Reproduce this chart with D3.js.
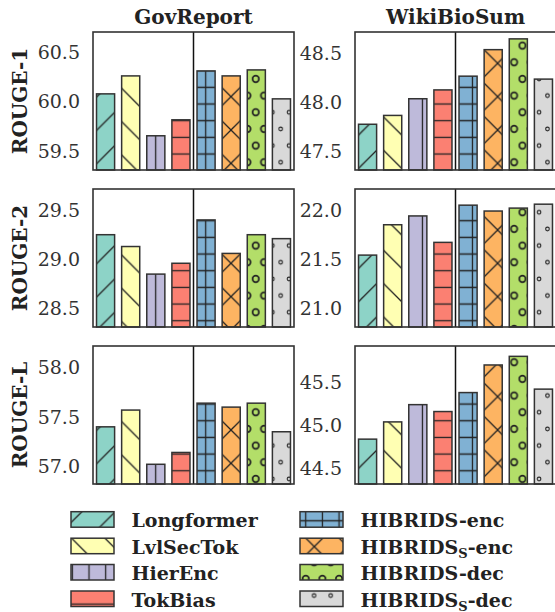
<!DOCTYPE html>
<html>
<head>
<meta charset="utf-8">
<script src="https://cdn.jsdelivr.net/npm/d3@7"></script>
<style>
  body { margin: 0; background: #fff; }
  svg { display: block; font-family: "DejaVu Serif", serif; }
</style>
</head>
<body>
<svg id="chart" width="555" height="612"></svg>
<script>
// ---- data ----
const models = ["Longformer", "LvlSecTok", "HierEnc", "TokBias", "HIBRIDS-enc", "HIBRIDS_S-enc", "HIBRIDS-dec", "HIBRIDS_S-dec"];
const datasets = ["GovReport", "WikiBioSum"];
const metrics = ["ROUGE-1", "ROUGE-2", "ROUGE-L"];

const govR1 = [60.08, 60.26, 59.66, 59.82, 60.31, 60.26, 60.32, 60.03];
const govR2 = [29.25, 29.13, 28.85, 28.96, 29.40, 29.06, 29.25, 29.21];
const govRL = [57.40, 57.57, 57.02, 57.14, 57.64, 57.60, 57.64, 57.35];
const wikiR1 = [47.78, 47.87, 48.04, 48.13, 48.27, 48.54, 48.65, 48.24];
const wikiR2 = [21.54, 21.85, 21.94, 21.67, 22.05, 21.99, 22.02, 22.06];
const wikiRL = [44.84, 45.04, 45.24, 45.16, 45.38, 45.70, 45.80, 45.42];

const govTicks = [[59.5, 60.0, 60.5], [28.5, 29.0, 29.5], [57.0, 57.5, 58.0]];
const wikiTicks = [[47.5, 48.0, 48.5], [21.0, 21.5, 22.0], [44.5, 45.0, 45.5]];
const govLims = [[59.317, 60.70], [28.313, 29.714], [56.82, 58.22]];
const wikiLims = [[47.314, 48.72], [20.806, 22.215], [44.32, 45.92]];

const values = [[govR1, wikiR1], [govR2, wikiR2], [govRL, wikiRL]];
const ticks = [[govTicks[0], wikiTicks[0]], [govTicks[1], wikiTicks[1]], [govTicks[2], wikiTicks[2]]];
const lims = [[govLims[0], wikiLims[0]], [govLims[1], wikiLims[1]], [govLims[2], wikiLims[2]]];

const colors = ["#8dd3c7", "#ffffb3", "#bebada", "#fb8072", "#80b1d3", "#fdb462", "#b3de69", "#d9d9d9"];
const hatches = ["fwd", "back", "vert", "hor", "plus", "cross", "ring", "dot"];

// ---- layout ----
const colLeft = [93, 355], panelW = 201;
const rowTop = [32, 189, 346], panelH = 138;
const edge = "#333", ink = "#222";

const svg = d3.select("#chart");
const defs = svg.append("defs");

// hatch patterns in page space so they line up across panels like matplotlib
const S = 16.67, D = 33.33;
function pat(id, w, h, x, y) {
  return defs.append("pattern").attr("id", "h-" + id)
    .attr("patternUnits", "userSpaceOnUse")
    .attr("width", w).attr("height", h).attr("x", x).attr("y", y);
}
const line = p => p.append("path").attr("fill", "none").attr("stroke", ink).attr("stroke-width", 1.3);

line(pat("fwd", D, D, 27, 0)).attr("d", `M0,${D}L${D},0M-3,3L3,-3M${D-3},${D+3}L${D+3},${D-3}`);
line(pat("back", D, D, 0, 0)).attr("d", `M0,0L${D},${D}M-3,${D-3}L3,${D+3}M${D-3},-3L${D+3},3`);
line(pat("vert", S, S, 5.67 - S / 2, 0)).attr("d", `M${S/2},0V${S}`);
line(pat("hor", S, S, 0, 4 - S / 2)).attr("d", `M0,${S/2}H${S}`);
line(pat("plus", S, S, 5.67 - S / 2, 4 - S / 2)).attr("d", `M${S/2},0V${S}M0,${S/2}H${S}`);
line(pat("cross", D, D, 31, 30)).attr("d", `M-3,-3L${D+3},${D+3}M-3,${D+3}L${D+3},-3`);
[["ring", 3.2, 1.7], ["dot", 1.8, 1.1]].forEach(([id, r, sw]) => {
  const p = pat(id, S, D, 5.67, 12.3);
  [[0, 0], [S, 0], [0, D], [S, D], [S / 2, D / 2]].forEach(([cx, cy]) => {
    p.append("circle").attr("cx", cx).attr("cy", cy).attr("r", r)
      .attr("fill", "none").attr("stroke", ink).attr("stroke-width", sw);
  });
});

// ---- panels ----
metrics.forEach((metric, r) => {
  datasets.forEach((ds, c) => {
    const left = colLeft[c], top = rowTop[r];
    const x = d3.scaleBand().domain(models)
      .range([left, left + panelW]).paddingInner(0.28).paddingOuter(0.14);
    const y = d3.scaleLinear().domain(lims[r][c]).range([top + panelH, top]);
    const vals = values[r][c];

    const bars = svg.append("g");
    bars.selectAll(".fill").data(models).enter().append("rect")
      .attr("x", d => x(d)).attr("width", x.bandwidth())
      .attr("y", (d, i) => y(vals[i])).attr("height", (d, i) => top + panelH - y(vals[i]))
      .attr("fill", (d, i) => colors[i]);
    bars.selectAll(".hatch").data(models).enter().append("rect")
      .attr("x", d => x(d)).attr("width", x.bandwidth())
      .attr("y", (d, i) => y(vals[i])).attr("height", (d, i) => top + panelH - y(vals[i]))
      .attr("fill", (d, i) => "url(#h-" + hatches[i] + ")")
      .attr("stroke", edge).attr("stroke-width", 1.5);

    const mid = (x(models[3]) + x.bandwidth() + x(models[4])) / 2;
    svg.append("line").attr("x1", mid).attr("x2", mid)
      .attr("y1", top).attr("y2", top + panelH)
      .attr("stroke", "#111").attr("stroke-width", 1.5);

    svg.append("rect").attr("x", left).attr("y", top)
      .attr("width", panelW).attr("height", panelH)
      .attr("fill", "none").attr("stroke", edge).attr("stroke-width", 1.6);

    const ax = svg.append("g").attr("transform", `translate(${left},0)`)
      .call(d3.axisLeft(y).tickValues(ticks[r][c]).tickSize(0).tickPadding(13).tickFormat(d3.format(".1f")));
    ax.select(".domain").remove();
    ax.selectAll("text").attr("font-family", "DejaVu Serif").attr("font-size", 19).attr("fill", "#333");

    if (r === 0) {
      svg.append("text").attr("x", left + panelW / 2).attr("y", 24)
        .attr("text-anchor", "middle").attr("font-weight", "bold")
        .attr("font-size", 20).attr("fill", ink).text(ds);
    }
  });
  svg.append("text")
    .attr("transform", `translate(27,${rowTop[r] + panelH / 2}) rotate(-90)`)
    .attr("text-anchor", "middle").attr("font-weight", "bold")
    .attr("font-size", 20).attr("fill", ink).text(metric);
});

// ---- legend ----
const legX = [71, 300], legY = [511.7, 538.2, 564.5, 591], patchW = 43, patchH = 15.5;
models.forEach((m, i) => {
  const lx = legX[Math.floor(i / 4)], ly = legY[i % 4];
  svg.append("rect").attr("x", lx).attr("y", ly).attr("width", patchW).attr("height", patchH)
    .attr("fill", colors[i]);
  svg.append("rect").attr("x", lx).attr("y", ly).attr("width", patchW).attr("height", patchH)
    .attr("fill", "url(#h-" + hatches[i] + ")").attr("stroke", edge).attr("stroke-width", 1.5);
  const t = svg.append("text").attr("x", lx + 60.5).attr("y", ly + patchH)
    .attr("font-weight", "bold").attr("font-size", 19).attr("fill", ink);
  const parts = m.split("_S");
  t.append("tspan").text(parts[0]);
  if (parts.length > 1) {
    t.append("tspan").attr("font-size", 13).attr("dy", 4).text("S");
    t.append("tspan").attr("dy", -4).text(parts[1]);
  }
});
</script>
</body>
</html>
